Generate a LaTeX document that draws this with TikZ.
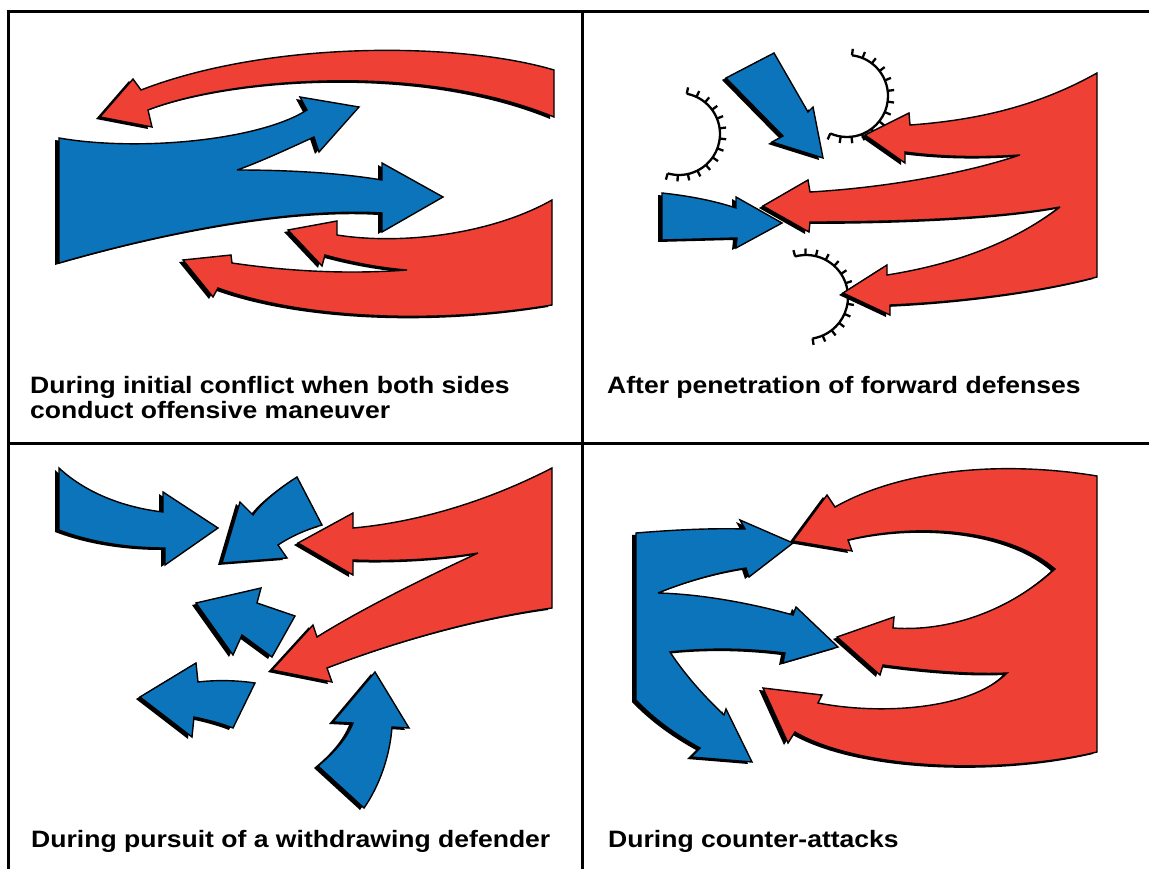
\documentclass[tikz,border=0pt]{standalone}
\usepackage{fontspec}
\setmainfont{Liberation Sans}[FakeStretch=1.12]
\usetikzlibrary{shadows}
\definecolor{redF}{RGB}{239,64,54}
\definecolor{blueF}{RGB}{11,116,186}
\tikzset{
  shaft/.style={draw=black, line width=1.4pt, line join=miter, miter limit=4,
    drop shadow={shadow xshift=-4pt, shadow yshift=-2pt, fill=black, opacity=1}},
  bluearrow/.style={shaft, fill=blueF},
  redarrow/.style={shaft, fill=redF},
  frameline/.style={line width=3pt, black},
  arcline/.style={line width=2.3pt, black},
  caption/.style={anchor=base west, inner sep=0pt, align=left,
    font=\fontsize{23.7}{25}\selectfont\bfseries},
}
% semicircle of a defended position with outward ticks
\newcommand{\tickarc}[5]{%
  \draw[arcline] (#1,#2) ++(#4:#3) arc[start angle=#4, end angle=#5, radius=#3];
  \foreach \k in {0,...,13}{%
    \pgfmathsetmacro\ang{#4+(#5-#4)*\k/13}%
    \draw[arcline] (#1,#2) ++(\ang:#3) -- ++(\ang:6.5);
  }%
}
\begin{document}
\begin{tikzpicture}[x=1pt, y=-1pt]
\useasboundingbox (0,0) rectangle (1149,869);

% ---------- panel frame ----------
\draw[frameline] (6.5,12) -- (1149,12);
\draw[frameline] (8,12) -- (8,869);
\draw[frameline] (582,12) -- (582,869);
\draw[frameline] (8,443) -- (1149,443);

% ---------- panel 1: both sides attack ----------
\path[redarrow] (554,70)
  .. controls (460,42) and (270,40) .. (141,90)
  -- (133,79) -- (100,117) -- (152,127) -- (148,110)
  .. controls (230,78) and (420,62) .. (554,117)
  -- cycle;
\path[bluearrow] (59,138)
  .. controls (140,152) and (260,140) .. (307,110)
  -- (300,97) -- (359,107) -- (319,152) -- (314,137)
  .. controls (290,148) and (260,162) .. (237,170)
  .. controls (290,170) and (340,173) .. (382,180)
  -- (382,163) -- (443,197) -- (382,232) -- (382,213)
  .. controls (300,208) and (180,228) .. (59,263)
  -- cycle;
\path[redarrow] (552,200)
  .. controls (490,235) and (400,245) .. (337,235)
  -- (337,221) -- (288,230) -- (322,266) -- (325,255)
  .. controls (350,262) and (380,268) .. (407,270)
  .. controls (340,275) and (280,270) .. (232,263)
  -- (231,255) -- (183,260) -- (213,297) -- (218,288)
  .. controls (300,318) and (430,325) .. (552,305)
  -- cycle;
\node[caption] (cap1) at (30,418) {During initial conflict when both sides\\conduct offensive maneuver};

% ---------- panel 2: penetration of forward defenses ----------
\tickarc{679}{134}{41}{-79}{106}
\tickarc{847}{96}{41}{-83}{114}
\tickarc{806}{297}{42}{-105}{81}
\path[bluearrow] (726,78) -- (774,53) -- (808,112) -- (813,107)
  -- (823,158) -- (772,142) -- (783,136) -- cycle;
\path[bluearrow] (662,193)
  .. controls (690,196) and (715,201) .. (736,208)
  -- (736,197) -- (782,223) -- (736,248) -- (737,238) -- (662,240) -- cycle;
\path[redarrow] (1097,73)
  .. controls (1040,105) and (980,120) .. (910,125)
  -- (909,113) -- (865,135) -- (905,163) -- (905,152)
  .. controls (950,158) and (990,157) .. (1020,155)
  .. controls (960,175) and (880,188) .. (810,192)
  -- (808,180) -- (763,206) -- (809,232) -- (810,222)
  .. controls (900,222) and (1000,218) .. (1060,207)
  .. controls (1010,245) and (950,265) .. (887,275)
  -- (887,265) -- (843,293) -- (890,315) -- (890,305)
  .. controls (960,302) and (1040,292) .. (1097,277)
  -- cycle;
\node[caption] (cap2) at (607,393) {After penetration of forward defenses};

% ---------- panel 3: pursuit ----------
\path[bluearrow] (59,468)
  .. controls (88,495) and (128,508) .. (163,512)
  -- (163,492) -- (218,528) -- (165,565) -- (165,548)
  .. controls (128,548) and (90,542) .. (59,530)
  -- cycle;
\path[bluearrow] (297,477)
  .. controls (280,488) and (262,502) .. (253,515)
  -- (240,502) -- (222,563) -- (287,558) -- (278,545)
  .. controls (290,537) and (305,530) .. (322,525)
  -- cycle;
\path[redarrow] (552,468)
  .. controls (490,500) and (420,522) .. (353,528)
  -- (353,513) -- (298,543) -- (353,575) -- (353,560)
  .. controls (400,562) and (450,558) .. (478,553)
  .. controls (420,580) and (360,610) .. (317,637)
  -- (313,625) -- (272,670) -- (332,682) -- (327,668)
  .. controls (400,640) and (480,618) .. (552,608)
  -- cycle;
\path[bluearrow] (295,616) -- (257,603) -- (261,588) -- (196,603)
  -- (233,655) -- (242,635) -- (272,657) -- cycle;
\path[bluearrow] (255,683)
  .. controls (235,680) and (215,680) .. (198,682)
  -- (196,663) -- (140,697) -- (192,737) -- (194,717)
  .. controls (208,720) and (220,723) .. (233,728)
  -- cycle;
\path[bluearrow] (318,766)
  .. controls (335,752) and (347,738) .. (353,723)
  -- (333,722) -- (375,672) -- (409,728) -- (392,727)
  .. controls (390,755) and (380,785) .. (364,808)
  -- cycle;
\node[caption] (cap3) at (31,847) {During pursuit of a withdrawing defender};

% ---------- panel 4: counter-attacks ----------
\path[redarrow] (1097,476)
  .. controls (1000,460) and (900,470) .. (835,507)
  -- (827,495) -- (793,541) -- (852,551) -- (848,540)
  .. controls (920,522) and (1010,530) .. (1055,569)
  .. controls (1010,610) and (950,632) .. (893,628)
  -- (894,617) -- (837,637) -- (880,675) -- (883,665)
  .. controls (920,670) and (970,675) .. (1007,673)
  .. controls (970,710) and (880,715) .. (818,703)
  -- (822,695) -- (763,688) -- (788,743) -- (795,732)
  .. controls (860,770) and (1000,775) .. (1097,752)
  -- cycle;
\path[bluearrow] (636,533)
  .. controls (672,530) and (710,528) .. (745,529)
  -- (740,520) -- (793,543) -- (749,577) -- (746,568)
  .. controls (715,573) and (685,582) .. (658,593)
  .. controls (700,594) and (750,603) .. (793,615)
  -- (796,607) -- (838,647) -- (783,663) -- (785,653)
  .. controls (745,648) and (705,648) .. (670,652)
  .. controls (685,675) and (705,697) .. (724,715)
  -- (726,709) -- (752,762) -- (691,757) -- (700,748)
  .. controls (678,736) and (655,720) .. (636,700)
  -- cycle;
\node[caption] (cap4) at (608,847) {During counter-attacks};
\end{tikzpicture}
\end{document}
